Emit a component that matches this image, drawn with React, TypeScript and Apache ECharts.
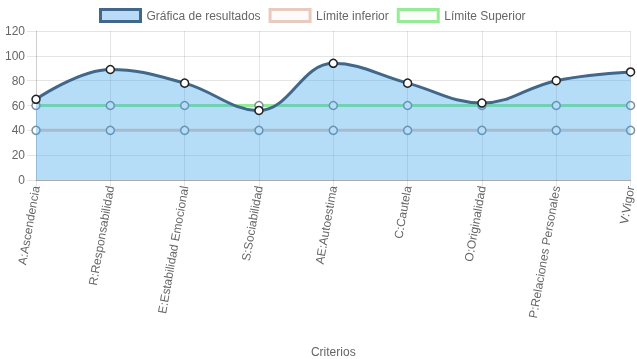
import React, { useEffect, useRef } from "react";
import * as echarts from "echarts";

const categories = [
  "A:Ascendencia",
  "R:Responsabilidad",
  "E:Estabilidad Emocional",
  "S:Sociabilidad",
  "AE:Autoestima",
  "C:Cautela",
  "O:Originalidad",
  "P:Relaciones Personales",
  "V:Vigor",
];
const resultados = [65, 89, 78, 56, 94, 78, 62, 80, 87];
const limiteInferior = [40, 40, 40, 40, 40, 40, 40, 40, 40];
const limiteSuperior = [60, 60, 60, 60, 60, 60, 60, 60, 60];
const yTicks = { min: 0, max: 120, interval: 20 };

const FONT = "'Liberation Sans', Arial, Helvetica, sans-serif";

export default function App() {
  const ref = useRef<HTMLDivElement>(null);
  useEffect(() => {
    if (!ref.current) return;
    const chart = echarts.init(ref.current, null, { renderer: "svg" });
    chart.setOption({
      animation: false,
      textStyle: { fontFamily: FONT },
      legend: {
        top: 8,
        left: 99,
        padding: 0,
        itemWidth: 40,
        itemHeight: 12,
        itemGap: 8,
        textStyle: { color: "#666", fontSize: 12, fontFamily: FONT, padding: [0, 0, 0, 1] },
        data: [
          {
            name: "Gráfica de resultados",
            icon: "rect",
            itemStyle: { color: "#b9dbf8", borderColor: "#41678a", borderWidth: 3 },
          },
          {
            name: "Límite inferior",
            icon: "rect",
            itemStyle: { color: "#fdfbfa", borderColor: "#e8cabe", borderWidth: 3 },
          },
          {
            name: "Límite Superior",
            icon: "rect",
            itemStyle: { color: "#f9fef9", borderColor: "#95ec95", borderWidth: 3 },
          },
        ],
      },
      grid: { left: 36, right: 3, top: 31, bottom: 179, containLabel: false },
      xAxis: {
        type: "category",
        data: categories,
        boundaryGap: false,
        name: "Criterios",
        nameLocation: "middle",
        nameGap: 166,
        nameTextStyle: { color: "#666", fontSize: 12, fontFamily: FONT },
        axisLine: { show: true, lineStyle: { color: "rgba(0,0,0,0.25)", width: 1 } },
        axisTick: { show: true, length: 6, lineStyle: { color: "rgba(0,0,0,0.1)" } },
        axisLabel: { rotate: 80, color: "#666", fontSize: 12, margin: 6, fontFamily: FONT, interval: 0 },
        splitLine: { show: true, lineStyle: { color: "rgba(0,0,0,0.1)" } },
      },
      yAxis: {
        type: "value",
        min: yTicks.min,
        max: yTicks.max,
        interval: yTicks.interval,
        axisLine: { show: true, lineStyle: { color: "rgba(0,0,0,0.1)" } },
        axisTick: { show: true, length: 9, lineStyle: { color: "rgba(0,0,0,0.1)" } },
        axisLabel: { color: "#666", fontSize: 12, margin: 11, fontFamily: FONT },
        splitLine: { show: true, lineStyle: { color: "rgba(0,0,0,0.1)" } },
      },
      series: [
        {
          name: "Límite Superior",
          type: "line",
          z: 2,
          data: limiteSuperior,
          symbol: "circle",
          symbolSize: 8,
          lineStyle: { color: "#95ec95", width: 3 },
          itemStyle: { color: "#ffffff", borderColor: "#7f8f9a", borderWidth: 1.5 },
        },
        {
          name: "Límite inferior",
          type: "line",
          z: 2,
          data: limiteInferior,
          symbol: "circle",
          symbolSize: 8,
          lineStyle: { color: "#e8cabe", width: 3 },
          itemStyle: { color: "#ffffff", borderColor: "#7f8f9a", borderWidth: 1.5 },
        },
        {
          name: "Gráfica de resultados",
          type: "line",
          z: 3,
          data: resultados,
          smooth: 0.4,
          symbol: "circle",
          symbolSize: 8,
          lineStyle: { color: "#41678a", width: 3 },
          itemStyle: { color: "#ffffff", borderColor: "#222", borderWidth: 1.5 },
          areaStyle: { color: "rgba(54,162,235,0.36)", opacity: 1, origin: "start" },
        },
      ],
    });
    return () => chart.dispose();
  }, []);
  return (
    <div
      ref={ref}
      style={{ position: "fixed", left: 0, top: 0, width: 637, height: 359 }}
    />
  );
}
